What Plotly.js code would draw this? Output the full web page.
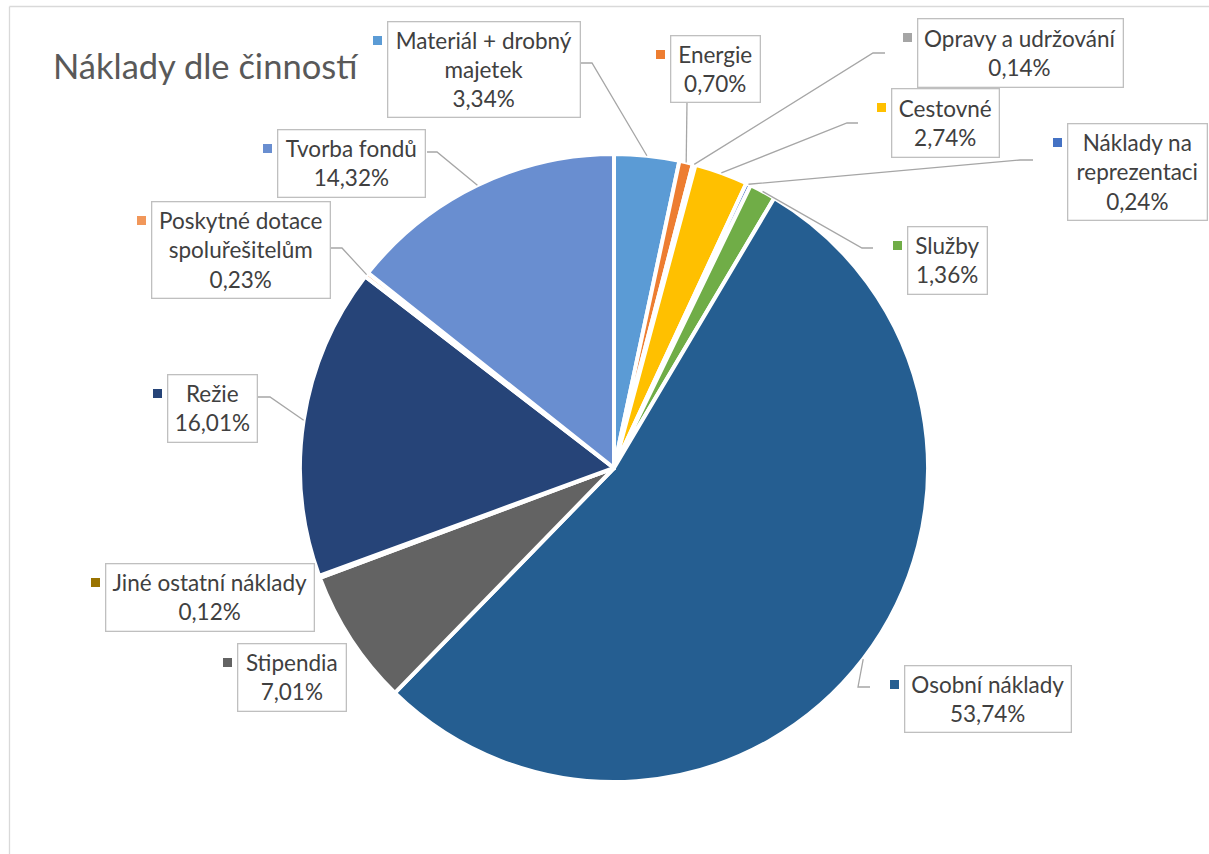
<!DOCTYPE html>
<html>
<head>
<meta charset="utf-8">
<script src="https://cdn.plot.ly/plotly-3.0.1.min.js"></script>
<style>
  html, body { margin: 0; padding: 0; background: #fff; }
  #chart { width: 1209px; height: 854px; }
</style>
</head>
<body>
<div id="chart"></div>
<script>
// ---- data ----
const categories = ['Materiál + drobný majetek', 'Energie', 'Opravy a udržování', 'Cestovné',
  'Náklady na reprezentaci', 'Služby', 'Osobní náklady', 'Stipendia', 'Jiné ostatní náklady',
  'Režie', 'Poskytné dotace spoluřešitelům', 'Tvorba fondů'];
const values = [3.34, 0.70, 0.14, 2.74, 0.24, 1.36, 53.74, 7.01, 0.12, 16.01, 0.23, 14.32];
const labelLines = ['Materiál + drobný<br>majetek', 'Energie', 'Opravy a udržování', 'Cestovné',
  'Náklady na<br>reprezentaci', 'Služby', 'Osobní náklady', 'Stipendia', 'Jiné ostatní náklady',
  'Režie', 'Poskytné dotace<br>spoluřešitelům', 'Tvorba fondů'];
const titleText = 'Náklady dle činností';

// ---- style / layout ----
const colors = ['#5B9BD5', '#ED7D31', '#A5A5A5', '#FFC000', '#4472C4', '#70AD47',
  '#255E91', '#636363', '#997300', '#264478', '#F1975A', '#698ED0'];
const W = 1209, H = 854;
const FONT = 'Lato, "Open Sans", sans-serif';
const cx = 614, cy = 468, R = 314;
// label boxes [left, top, right, bottom] in px
const boxes = [
  [388, 22, 580, 117], [671, 36, 760, 102], [918, 19, 1123, 87], [892, 89, 999, 157],
  [1068, 124, 1207, 220], [908, 227, 987, 294], [905, 666, 1071, 732], [238, 644, 346, 711],
  [106, 564, 314, 631], [168, 375, 257, 442], [152, 202, 330, 298], [278, 130, 425, 197]];
// leader lines: [startX, startY, elbowX] or null
const leaders = [
  [581, 63, 592], [687, 102, 687], [885, 53, 873], [858, 123, 847],
  [1033, 160, 1020], [873, 248, 862], [870, 687, 858], null,
  null, [258, 397, 270], [330, 248, 342], [427, 152, 437]];

const px = x => x / W;
const py = y => 1 - y / H;

const total = values.reduce((a, b) => a + b, 0);
const fmt = v => v.toFixed(2).replace('.', ',') + '%';

const annotations = [];
const shapes = [];
let cum = 0;
values.forEach((v, i) => {
  const mid = (cum + v / 2) / total;
  cum += v;
  const ang = mid * 2 * Math.PI;
  const ex = cx + R * Math.sin(ang), ey = cy - R * Math.cos(ang);
  const b = boxes[i];
  annotations.push({
    xref: 'paper', yref: 'paper',
    x: px((b[0] + b[2]) / 2), y: py((b[1] + b[3]) / 2),
    xanchor: 'center', yanchor: 'middle',
    width: b[2] - b[0] - 1, height: b[3] - b[1] - 1,
    text: labelLines[i] + '<br>' + fmt(v),
    showarrow: false, align: 'center', valign: 'middle',
    font: { family: FONT, size: 22.5, color: '#404040' },
    bgcolor: '#FFFFFF', bordercolor: '#BFBFBF', borderwidth: 1.3, borderpad: 0
  });
  shapes.push({
    type: 'rect', xref: 'paper', yref: 'paper',
    x0: px(b[0] - 15), x1: px(b[0] - 6), y0: py(b[1] + 14), y1: py(b[1] + 23),
    fillcolor: colors[i], line: { width: 0 }
  });
  const L = leaders[i];
  if (L) {
    shapes.push({
      type: 'path', xref: 'paper', yref: 'paper',
      path: `M ${px(L[0])} ${py(L[1])} L ${px(L[2])} ${py(L[1])} L ${px(ex)} ${py(ey)}`,
      line: { color: '#A6A6A6', width: 1.3 }
    });
  }
});

// chart frame
shapes.push({ type: 'line', xref: 'paper', yref: 'paper', x0: px(9.5), x1: px(9.5), y0: -0.05, y1: py(6.5),
  line: { color: '#D9D9D9', width: 1.3 } });
shapes.push({ type: 'line', xref: 'paper', yref: 'paper', x0: px(9.5), x1: 1.05, y0: py(6.5), y1: py(6.5),
  line: { color: '#D9D9D9', width: 1.3 } });

const trace = {
  type: 'pie',
  labels: categories,
  values: values,
  sort: false,
  direction: 'clockwise',
  rotation: 0,
  textinfo: 'none',
  hoverinfo: 'label+percent',
  marker: { colors: colors, line: { color: '#FFFFFF', width: 4 } },
  domain: { x: [px(cx - R), px(cx + R)], y: [py(cy + R), py(cy - R)] },
  showlegend: false
};

const layout = {
  width: W, height: H,
  margin: { l: 0, r: 0, t: 0, b: 0 },
  paper_bgcolor: '#FFFFFF',
  showlegend: false,
  title: {
    text: titleText, xref: 'paper', yref: 'paper',
    x: px(53), xanchor: 'left', y: py(67), yanchor: 'middle',
    font: { family: FONT, size: 34.5, color: '#595959' }
  },
  annotations: annotations,
  shapes: shapes
};

Plotly.newPlot('chart', [trace], layout, { displayModeBar: false, responsive: false });
</script>
</body>
</html>
